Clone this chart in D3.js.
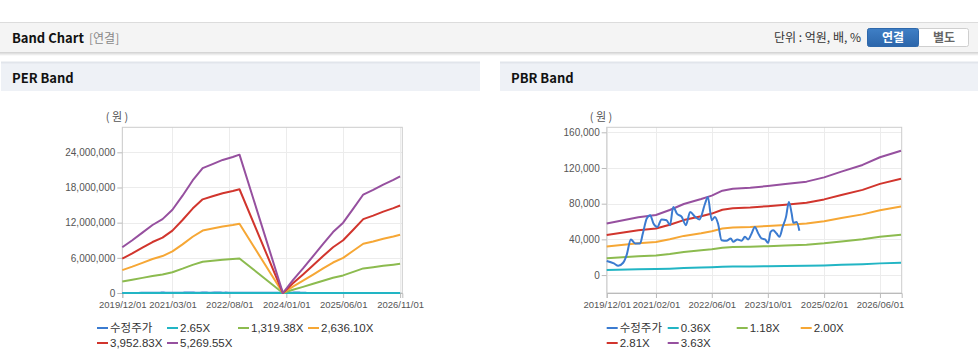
<!DOCTYPE html>
<html>
<head>
<meta charset="utf-8">
<script src="https://cdn.jsdelivr.net/npm/d3@7"></script>
<style>
  body { margin: 0; background: #fff; }
  svg { display: block; font-family: "Liberation Sans", Arial, "Noto Sans CJK KR", sans-serif; }
</style>
</head>
<body>
<svg id="chart" width="978" height="362"></svg>
<script>
// ---- PER band data (원) ----
var perDates = ["2019-12-01","2020-03-01","2020-06-01","2020-09-01","2020-12-01","2021-03-01","2021-06-01","2021-09-01","2021-12-01","2022-03-01","2022-06-01","2022-09-01","2022-11-01","2023-12-01","2024-03-01","2024-06-01","2024-09-01","2024-12-01","2025-03-01","2025-06-01","2025-09-01","2025-12-01","2026-03-01","2026-06-01","2026-09-01","2026-11-01"];
var per265  = [3900,4500,5150,5800,6300,7100,8300,9600,10650,11000,11350,11600,11850,0,1100,2100,3150,4200,5200,6000,7200,8400,8800,9250,9650,9950];
var per1319 = [1950000,2250000,2580000,2900000,3150000,3550000,4150000,4800000,5330000,5500000,5680000,5800000,5900000,0,550000,1050000,1580000,2100000,2600000,3000000,3600000,4200000,4400000,4630000,4830000,4980000];
var per2636 = [3900000,4500000,5150000,5800000,6300000,7100000,8300000,9600000,10650000,11000000,11350000,11600000,11800000,0,1100000,2100000,3150000,4200000,5200000,6000000,7200000,8400000,8800000,9250000,9650000,9950000];
var per3952 = [5850000,6750000,7730000,8700000,9450000,10650000,12450000,14400000,15980000,16500000,17030000,17400000,17700000,0,1650000,3150000,4730000,6300000,7800000,9000000,10800000,12600000,13200000,13880000,14480000,14930000];
var per5269 = [7800000,9000000,10300000,11600000,12600000,14200000,16600000,19200000,21300000,22000000,22700000,23200000,23600000,0,2200000,4200000,6300000,8400000,10400000,12000000,14400000,16800000,17600000,18500000,19300000,19900000];
var perTicks = ["2019-12-01","2021-03-01","2022-08-01","2024-01-01","2025-06-01","2026-11-01"];
var perYTicks = [0,6000000,12000000,18000000,24000000];

// ---- PBR band data (원) ----
var pbrDates = ["2019-12-01","2020-09-01","2021-02-01","2021-06-01","2021-10-01","2022-03-01","2022-06-01","2022-09-01","2022-12-01","2023-05-01","2023-10-01","2024-03-01","2024-09-01","2025-02-01","2025-07-01","2026-01-01","2026-06-01","2026-12-01"];
var pbr036 = [5700,6400,6700,7200,7900,8400,8800,9400,9600,9700,9900,10100,10400,10800,11500,12200,13100,13800];
var pbr118 = [18800,21000,21900,23700,25900,27700,28900,30700,31500,31800,32400,33200,34000,35600,37700,40100,42900,45300];
var pbr200 = [31900,35700,37100,40200,43900,46900,49000,52100,53300,53900,55000,56200,57700,60300,63900,68000,72700,76800];
var pbr281 = [44800,50100,52100,56400,61600,65900,68900,73200,74900,75800,77200,78900,81000,84800,89700,95500,102200,107900];
var pbr363 = [57900,64700,67300,72900,79600,85200,89000,94600,96800,97900,99800,102000,104700,109500,115900,123400,132000,139400];
var pbrTicks = ["2019-12-01","2021-02-01","2022-06-01","2023-10-01","2025-02-01","2026-06-01"];
var pbrYTicks = [0,40000,80000,120000,160000];

// ---- 수정주가 (adjusted price) ----
var priceDates = ["2019-12-01","2020-02-01","2020-03-10","2020-04-22","2020-05-22","2020-06-28","2020-08-04","2020-09-16","2020-10-10","2020-11-13","2020-12-13","2021-01-10","2021-02-13","2021-03-22","2021-05-04","2021-06-03","2021-07-01","2021-08-01","2021-09-13","2021-10-19","2021-11-25","2022-01-07","2022-02-13","2022-04-04","2022-04-28","2022-06-01","2022-06-28","2022-07-25","2022-08-25","2022-10-07","2022-11-13","2022-12-04","2023-01-10","2023-02-16","2023-03-16","2023-04-13","2023-05-13","2023-06-10","2023-07-10","2023-08-07","2023-09-07","2023-10-04","2023-10-25","2023-11-16","2023-12-16","2024-01-10","2024-02-07","2024-03-07","2024-04-01","2024-04-25","2024-05-10","2024-06-07","2024-07-01"];
var priceValues = [15700,13100,10400,13800,22400,39900,35500,35500,46600,63400,67100,57800,54000,62300,61500,55900,76400,69000,65200,55900,70800,65200,62300,80200,87600,61500,65200,57800,39100,38400,41000,37300,39900,38400,42800,39900,46600,54000,46600,41000,39900,36100,48400,50300,46600,42800,54000,65200,82000,69000,58500,59600,49600];

var perLegend = ["수정주가","2.65X","1,319.38X","2,636.10X","3,952.83X","5,269.55X"];
var pbrLegend = ["수정주가","0.36X","1.18X","2.00X","2.81X","3.63X"];
var colors = ["#3b7bd0","#22b5c4","#8cbb4f","#f6a735","#d1352d","#96509f"];

var parse = d3.timeParse("%Y-%m-%d");
var svg = d3.select("#chart");

drawHeader();
drawPanel(1, 480, "PER Band");
drawPanel(500, 978, "PBR Band");

drawChart({
  left: 122.3, right: 402.3, top: 127.3, bottom: 293,
  xEnd: "2026-11-21", yDomain: [0, 28270000],
  xTicks: perTicks, yTicks: perYTicks,
  bandDates: perDates, bands: [per265, per1319, per2636, per3952, per5269],
  legend: perLegend, legendX: [97, 167, 238, 308], unitX: 117, priceOnTop: false
});
drawChart({
  left: 606.7, right: 901.7, top: 127.3, bottom: 293,
  xEnd: "2026-12-07", yDomain: [-20100, 165600],
  xTicks: pbrTicks, yTicks: pbrYTicks,
  bandDates: pbrDates, bands: [pbr036, pbr118, pbr200, pbr281, pbr363],
  legend: pbrLegend, legendX: [606.7, 667.7, 736.7, 800.7], unitX: 601, priceOnTop: true
});

function drawHeader() {
  var defs = svg.append("defs");
  var sh = defs.append("linearGradient").attr("id", "shadow").attr("x1", 0).attr("x2", 0).attr("y1", 0).attr("y2", 1);
  sh.append("stop").attr("offset", 0).attr("stop-color", "#cfcfcf");
  sh.append("stop").attr("offset", 1).attr("stop-color", "#fff");
  var bl = defs.append("linearGradient").attr("id", "blueBtn").attr("x1", 0).attr("x2", 0).attr("y1", 0).attr("y2", 1);
  bl.append("stop").attr("offset", 0).attr("stop-color", "#3f7fc6");
  bl.append("stop").attr("offset", 1).attr("stop-color", "#2c66aa");

  svg.append("rect").attr("x", 0).attr("y", 22).attr("width", 978).attr("height", 30).attr("fill", "#f4f4f4");
  svg.append("line").attr("x1", 0).attr("x2", 978).attr("y1", 22.5).attr("y2", 22.5).attr("stroke", "#dcdcdc");
  svg.append("rect").attr("x", 0).attr("y", 52).attr("width", 978).attr("height", 4).attr("fill", "url(#shadow)");

  svg.append("text").attr("x", 12).attr("y", 42.5)
    .style("font-family", "'Noto Sans CJK KR', 'Noto Sans', sans-serif")
    .style("font-size", "13px").style("font-weight", "bold").attr("fill", "#111")
    .text("Band Chart");
  svg.append("text").attr("x", 89).attr("y", 42.5)
    .style("font-family", "'Noto Sans CJK KR', sans-serif")
    .style("font-size", "12px").attr("fill", "#888")
    .text("[연결]");

  svg.append("text").attr("x", 861).attr("y", 42).attr("text-anchor", "end")
    .style("font-family", "'Noto Sans CJK KR', sans-serif")
    .style("font-size", "12px").attr("fill", "#333")
    .text("단위 : 억원, 배, %");

  svg.append("rect").attr("x", 867.5).attr("y", 28.5).attr("width", 101).attr("height", 18).attr("rx", 2)
    .attr("fill", "#fff").attr("stroke", "#cfcfcf");
  svg.append("rect").attr("x", 867.5).attr("y", 28.5).attr("width", 51).attr("height", 18).attr("rx", 2)
    .attr("fill", "url(#blueBtn)").attr("stroke", "#2e68ab");
  svg.append("text").attr("x", 893).attr("y", 42).attr("text-anchor", "middle")
    .style("font-family", "'Noto Sans CJK KR', sans-serif")
    .style("font-size", "12px").style("font-weight", "bold").attr("fill", "#fff")
    .text("연결");
  svg.append("text").attr("x", 944).attr("y", 42).attr("text-anchor", "middle")
    .style("font-family", "'Noto Sans CJK KR', sans-serif")
    .style("font-size", "12px").style("font-weight", "bold").attr("fill", "#666")
    .text("별도");
}

function drawPanel(x0, x1, title) {
  svg.append("rect").attr("x", x0).attr("y", 62).attr("width", x1 - x0).attr("height", 29).attr("fill", "#eef1f6");
  svg.append("line").attr("x1", x0).attr("x2", x1).attr("y1", 62.5).attr("y2", 62.5).attr("stroke", "#e1e5eb").attr("stroke-width", 2);
  svg.append("text").attr("x", x0 + 11).attr("y", 82.5)
    .style("font-family", "'Noto Sans CJK KR', 'Noto Sans', sans-serif")
    .style("font-size", "13px").style("font-weight", "bold").attr("fill", "#111")
    .text(title);
}

function drawChart(c) {
  var x = d3.scaleTime().domain([parse(c.bandDates[0]), parse(c.xEnd)]).range([c.left, c.right]);
  var y = d3.scaleLinear().domain(c.yDomain).range([c.bottom, c.top]);
  var g = svg.append("g");

  // grid
  g.selectAll(".hg").data(c.yTicks).enter().append("line")
    .attr("x1", c.left).attr("x2", c.right)
    .attr("y1", function(d) { return Math.round(y(d)) + 0.5; })
    .attr("y2", function(d) { return Math.round(y(d)) + 0.5; })
    .attr("stroke", "#ececec");
  g.selectAll(".vg").data(c.xTicks).enter().append("line")
    .attr("y1", c.top).attr("y2", c.bottom)
    .attr("x1", function(d) { return Math.round(x(parse(d))) + 0.5; })
    .attr("x2", function(d) { return Math.round(x(parse(d))) + 0.5; })
    .attr("stroke", "#ececec");
  g.append("rect").attr("x", c.left).attr("y", c.top)
    .attr("width", c.right - c.left).attr("height", c.bottom - c.top)
    .attr("fill", "none").attr("stroke", "#cccccc");

  // axes
  var ya = g.append("g").attr("transform", "translate(" + c.left + ",0)")
    .call(d3.axisLeft(y).tickValues(c.yTicks).tickSize(5).tickPadding(2).tickFormat(d3.format(",")));
  ya.select(".domain").remove();
  ya.selectAll("line").attr("stroke", "#bbb");
  ya.selectAll("text").attr("fill", "#555").style("font-size", "10px");

  var xa = g.append("g").attr("transform", "translate(0," + c.bottom + ")")
    .call(d3.axisBottom(x).tickValues(c.xTicks.map(parse)).tickSize(5).tickPadding(3).tickFormat(d3.timeFormat("%Y/%m/%d")));
  xa.select(".domain").attr("stroke", "#bbb");
  xa.selectAll("line").attr("stroke", "#bbb");
  xa.selectAll("text").attr("fill", "#555").style("font-size", "9.5px");

  g.append("text").attr("x", c.unitX).attr("y", 121).attr("text-anchor", "middle")
    .style("font-family", "'Noto Sans CJK KR', sans-serif")
    .style("font-size", "11px").attr("fill", "#555").text("( 원 )");

  // lines
  var line = d3.line()
    .x(function(d) { return x(d.date); })
    .y(function(d) { return y(d.value); });
  var price = { data: priceDates.map(function(d, i) { return { date: parse(d), value: priceValues[i] }; }), color: colors[0], smooth: true };
  var bands = c.bands.map(function(b, k) {
    return { data: c.bandDates.map(function(d, i) { return { date: parse(d), value: b[i] }; }), color: colors[k + 1], smooth: false };
  });
  var order = c.priceOnTop ? bands.concat([price]) : [price].concat(bands);
  order.forEach(function(s) {
    g.append("path").datum(s.data)
      .attr("fill", "none")
      .attr("stroke", s.color)
      .attr("stroke-width", 2)
      .attr("stroke-linejoin", "round")
      .attr("d", line.curve(s.smooth ? d3.curveMonotoneX : d3.curveLinear));
  });

  // legend
  c.legend.forEach(function(name, i) {
    var lx = c.legendX[i % 4], ly = i < 4 ? 328 : 343;
    g.append("line").attr("x1", lx).attr("x2", lx + 11).attr("y1", ly).attr("y2", ly)
      .attr("stroke", colors[i]).attr("stroke-width", 2);
    g.append("text").attr("x", lx + 13).attr("y", ly + 4)
      .style("font-size", "11.5px").attr("fill", "#333").text(name);
  });
}
</script>
</body>
</html>
